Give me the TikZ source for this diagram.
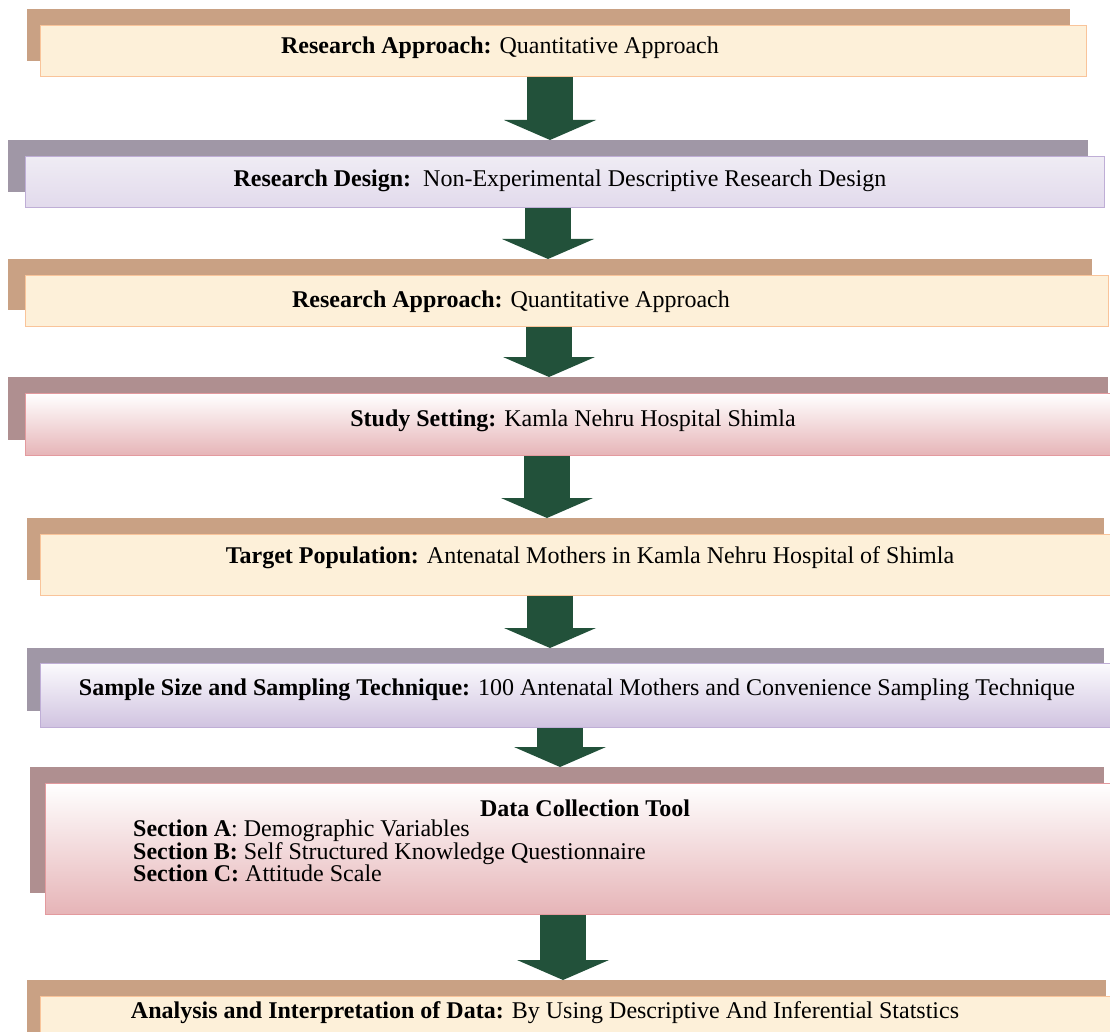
\documentclass[tikz,border=0pt]{standalone}
\usepackage{fontspec}
\setmainfont{Liberation Serif}
\usetikzlibrary{arrows.meta,calc}
\definecolor{tanback}{HTML}{C9A184}
\definecolor{grayback}{HTML}{A097A6}
\definecolor{mauveback}{HTML}{AF8F90}
\definecolor{peachfill}{HTML}{FDF0D9}
\definecolor{peachline}{HTML}{F9C49A}
\definecolor{lavline}{HTML}{BFAED6}
\definecolor{lavtop}{HTML}{EFECF4}
\definecolor{lavbot}{HTML}{E2DAEC}
\definecolor{lavtopb}{HTML}{FBFAFD}
\definecolor{lavbotb}{HTML}{D0C3E0}
\definecolor{pinkline}{HTML}{E39A9E}
\definecolor{pinkbot}{HTML}{E6B4B7}
\definecolor{arrowgreen}{HTML}{22513A}
\tikzset{
  back/.style={anchor=north west, inner sep=0pt, draw=none},
  front/.style={anchor=north west, inner sep=0pt, line width=1.4pt},
  peachbox/.style={front, fill=peachfill, draw=peachline},
  lavsoft/.style={front, top color=lavtop, bottom color=lavbot, draw=lavline},
  lavstrong/.style={front, top color=lavtopb, bottom color=lavbotb, draw=lavline},
  pinkbox/.style={front, top color=white, bottom color=pinkbot, draw=pinkline},
  lbl/.style={font=\fontsize{24}{22}\selectfont, inner sep=0pt},
  bigarrow/.style={draw=arrowgreen, line width=46pt,
    -{Triangle[width=92pt,length=20pt,line width=0pt]}},
}
\begin{document}
\begin{tikzpicture}[x=1pt,y=-1pt]
\useasboundingbox (0,0) rectangle (1110,1032);
\fill[white] (0,0) rectangle (1110,1032);

% ---------- Box 1
\node[back, fill=tanback, minimum width=1043pt, minimum height=52pt] (k1) at (27,9) {};
\node[peachbox, minimum width=1046pt, minimum height=51pt] (b1) at (40,25) {};
\node[lbl] (t1) at (500,48) {\textbf{Research Approach:} Quantitative Approach};

% ---------- Box 2
\node[back, fill=grayback, minimum width=1080pt, minimum height=52pt] (k2) at (8,140) {};
\node[lavsoft, minimum width=1079pt, minimum height=51pt] (b2) at (25,156) {};
\node[lbl] (t2) at (560,181) {\textbf{Research Design:}\ \ Non-Experimental Descriptive Research Design};

% ---------- Box 3
\node[back, fill=tanback, minimum width=1084pt, minimum height=51pt] (k3) at (8,259) {};
\node[peachbox, minimum width=1083pt, minimum height=51pt] (b3) at (25,275) {};
\node[lbl] (t3) at (511,302) {\textbf{Research Approach:} Quantitative Approach};

% ---------- Box 4
\node[back, fill=mauveback, minimum width=1100pt, minimum height=63pt] (k4) at (8,377) {};
\node[pinkbox, minimum width=1099pt, minimum height=62pt] (b4) at (25,393) {};
\node[lbl] (t4) at (573,421) {\textbf{Study Setting:} Kamla Nehru Hospital Shimla};

% ---------- Box 5
\node[back, fill=tanback, minimum width=1077pt, minimum height=62pt] (k5) at (27,518) {};
\node[peachbox, minimum width=1080pt, minimum height=61pt] (b5) at (40,534) {};
\node[lbl] (t5) at (590,558) {\textbf{Target Population:} Antenatal Mothers in Kamla Nehru Hospital of Shimla};

% ---------- Box 6
\node[back, fill=grayback, minimum width=1077pt, minimum height=63pt] (k6) at (27,648) {};
\node[lavstrong, minimum width=1080pt, minimum height=64pt] (b6) at (40,663) {};
\node[lbl] (t6) at (577,690) {\textbf{Sample Size and Sampling Technique:} 100 Antenatal Mothers and Convenience Sampling Technique};

% ---------- Box 7
\node[back, fill=mauveback, minimum width=1074pt, minimum height=126pt] (k7) at (30,767) {};
\node[pinkbox, minimum width=1075pt, minimum height=131pt] (b7) at (45,783) {};
\node[lbl] (t7) at (585,808) {\textbf{Data Collection Tool}};
\node[lbl, anchor=west, align=left] (s7) at (133,851)
  {\textbf{Section A}: Demographic Variables\\
   \textbf{Section B:} Self Structured Knowledge Questionnaire\\
   \textbf{Section C:} Attitude Scale};

% ---------- Box 8
\node[back, fill=tanback, minimum width=1079pt, minimum height=70pt] (k8) at (27,980) {};
\node[peachbox, minimum width=1080pt, minimum height=60pt] (b8) at (40,996) {};
\node[lbl] (t8) at (545,1013) {\textbf{Analysis and Interpretation of Data:} By Using Descriptive And Inferential Statstics};

% ---------- arrows
\coordinate (a1) at (550,0);
\coordinate (a2) at (548,0);
\coordinate (a3) at (549,0);
\coordinate (a4) at (547,0);
\coordinate (a5) at (550,0);
\coordinate (a6) at (560,0);
\coordinate (a7) at (563,0);
\draw[bigarrow] (b1.south -| a1) -- (k2.north -| a1);
\draw[bigarrow] (b2.south -| a2) -- (k3.north -| a2);
\draw[bigarrow] (b3.south -| a3) -- (k4.north -| a3);
\draw[bigarrow] (b4.south -| a4) -- (k5.north -| a4);
\draw[bigarrow] (b5.south -| a5) -- (k6.north -| a5);
\draw[bigarrow] (b6.south -| a6) -- (k7.north -| a6);
\draw[bigarrow] (b7.south -| a7) -- (k8.north -| a7);
\end{tikzpicture}
\end{document}
